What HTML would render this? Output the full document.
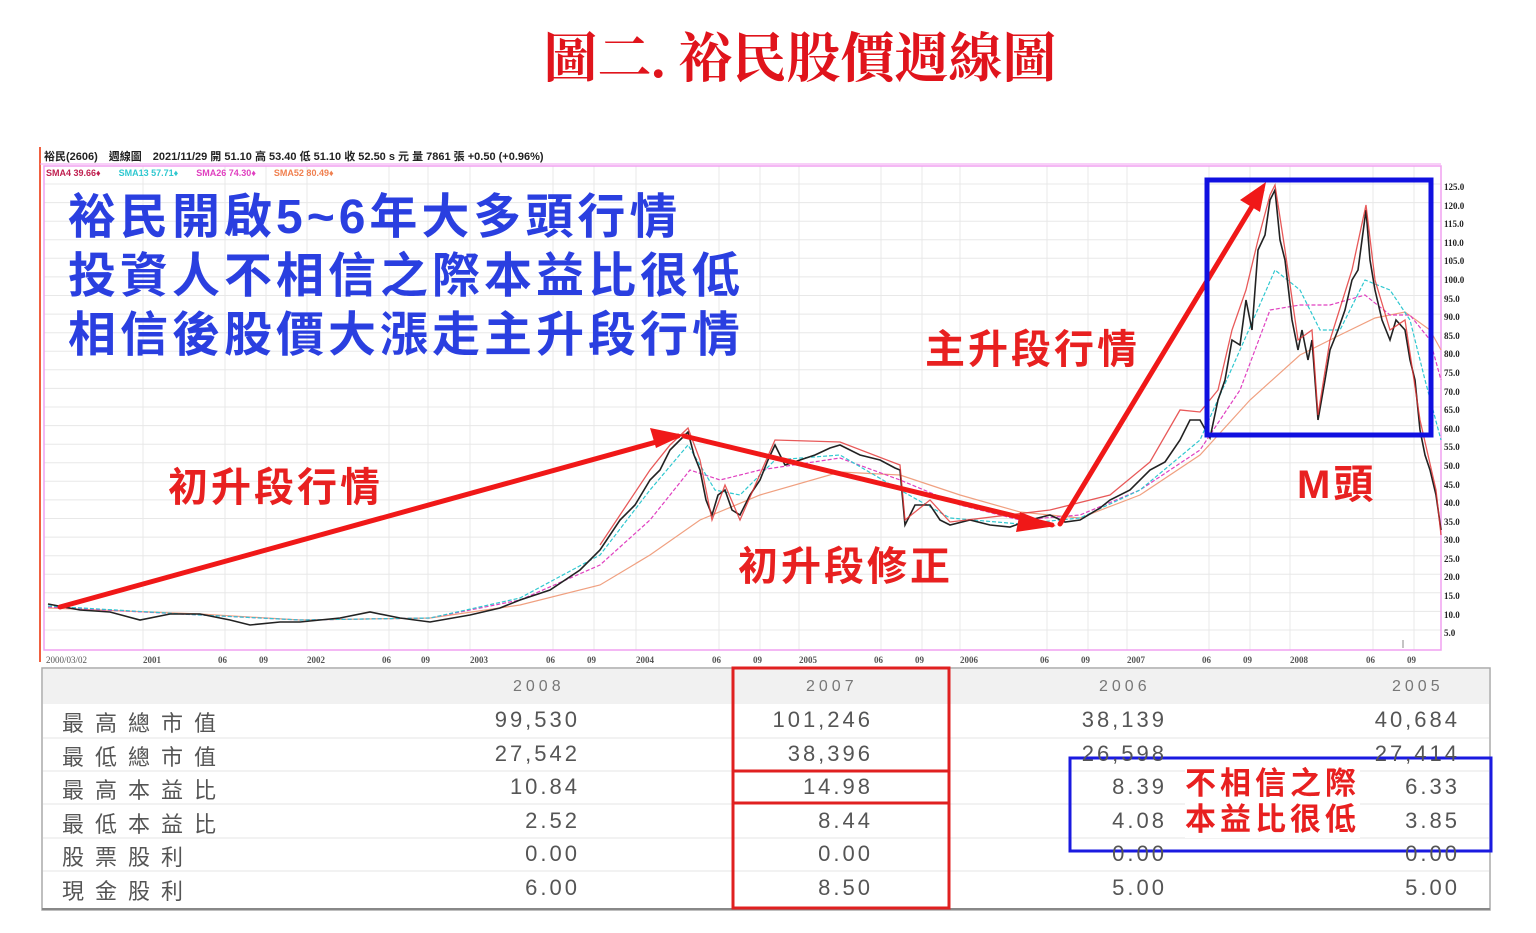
<!DOCTYPE html>
<html><head><meta charset="utf-8"><style>
body{margin:0;width:1536px;height:933px;background:#fff;overflow:hidden;position:relative;font-family:"Liberation Sans","Noto Sans CJK TC",sans-serif}
.a{position:absolute;white-space:nowrap}
.n{letter-spacing:3px;font-size:22px}
.l{letter-spacing:11px;font-size:22px}
</style></head><body>
<div class="a" style="left:0;width:1600px;top:16px;text-align:center;font:bold 54px 'Liberation Serif','Noto Serif CJK SC',serif;color:#e0141c">圖二. 裕民股價週線圖</div>
<svg class="a" style="left:0;top:0" width="1536" height="933" xmlns="http://www.w3.org/2000/svg">
<rect x="38" y="145" width="1453" height="520" fill="#fff"/>
<line x1="40" y1="147" x2="40" y2="662" stroke="#f06040" stroke-width="2"/>
<g stroke="#e8e8e8" stroke-width="1">
<path d="M143 166V650M225 166V650M266 166V650M307 166V650M389 166V650M428 166V650M470 166V650M553 166V650M594 166V650M636 166V650M719 166V650M760 166V650M799 166V650M881 166V650M922 166V650M960 166V650M1047 166V650M1088 166V650M1127 166V650M1209 166V650M1250 166V650M1290 166V650M1373 166V650M1414 166V650"/>
<path d="M44 184H1441M44 202.6H1441M44 221.2H1441M44 239.8H1441M44 258.3H1441M44 276.9H1441M44 295.5H1441M44 314.1H1441M44 332.7H1441M44 351.3H1441M44 369.8H1441M44 388.4H1441M44 407H1441M44 425.6H1441M44 444.2H1441M44 462.8H1441M44 481.3H1441M44 499.9H1441M44 518.5H1441M44 537.1H1441M44 555.7H1441M44 574.3H1441M44 592.8H1441M44 611.4H1441M44 630H1441"/>
</g>
<rect x="44" y="166" width="1397" height="484" fill="none" stroke="#f0a0f0" stroke-width="1.5"/>
<line x1="40" y1="164" x2="1441" y2="164" stroke="#f0a0f0"/>
<polyline fill="none" stroke="#f0a080" stroke-width="1.2" points="48,608 200,614 300,620 430,618 520,605 600,585 650,555 700,520 760,495 840,472 900,475 960,495 1020,512 1080,518 1140,495 1200,455 1250,400 1300,355 1340,335 1375,318 1405,312 1430,330 1441,350"/>
<polyline fill="none" stroke="#e040c0" stroke-width="1.2" stroke-dasharray="4,2" points="48,607 200,615 300,620 430,618 520,600 600,565 650,520 690,470 720,480 760,470 840,458 900,480 960,505 1020,520 1080,515 1140,490 1200,450 1240,390 1270,310 1300,305 1330,305 1365,295 1390,315 1410,315 1430,340 1441,380"/>
<polyline fill="none" stroke="#30c8d0" stroke-width="1.2" stroke-dasharray="4,2" points="48,606 200,615 300,620 430,618 520,598 600,555 650,490 688,445 715,490 740,495 775,460 840,455 900,490 950,518 1020,524 1080,518 1140,490 1200,440 1240,350 1275,270 1300,290 1320,330 1340,330 1365,280 1390,290 1410,320 1425,380 1441,440"/>
<polyline fill="none" stroke="#222" stroke-width="1.6" points="48,604 80,610 110,612 140,620 170,614 200,614 230,620 250,625 280,622 300,622 340,618 370,612 400,618 430,622 470,615 500,608 520,600 550,590 580,570 600,550 620,520 635,505 650,480 660,470 670,450 680,440 688,432 694,455 700,470 706,500 712,515 718,495 725,490 732,510 740,515 750,495 760,480 768,460 775,445 785,465 800,460 815,455 830,448 840,445 860,455 880,460 895,468 900,470 905,525 915,505 930,505 940,520 950,525 970,520 990,525 1010,527 1030,520 1050,515 1065,522 1080,520 1100,508 1110,500 1130,490 1150,470 1165,462 1180,440 1190,420 1200,420 1210,438 1218,400 1225,380 1232,340 1240,345 1246,300 1252,330 1258,250 1265,235 1270,200 1275,190 1280,240 1285,260 1292,320 1298,350 1302,330 1308,360 1312,340 1318,420 1325,380 1330,350 1338,330 1345,310 1352,280 1358,270 1362,240 1366,210 1370,260 1375,290 1382,320 1390,340 1396,320 1405,330 1410,360 1415,380 1420,430 1425,455 1430,470 1436,495 1441,530"/>
<polyline fill="none" stroke="#e23030" stroke-width="1.3" opacity="0.8" points="600,545 620,515 650,470 670,445 688,428 700,460 712,520 725,485 740,520 775,440 840,442 900,465 905,520 930,500 950,522 1050,510 1110,495 1150,462 1180,410 1200,412 1218,390 1232,330 1246,290 1258,240 1270,195 1275,185 1285,250 1298,340 1312,330 1318,415 1330,340 1352,270 1366,205 1375,280 1390,330 1405,320 1420,420 1436,490 1441,535"/>
<path d="M1403 648V640" stroke="#888"/>
<g stroke="#f01818" stroke-width="5" fill="none" stroke-linecap="round">
<line x1="60" y1="607" x2="678" y2="436"/>
<line x1="684" y1="436" x2="1052" y2="525"/>
<line x1="1060" y1="524" x2="1262" y2="190"/>
</g>
<g fill="#f01818">
<polygon points="684,435 650,428 656,448"/>
<polygon points="1056,526 1020,512 1016,532"/>
<polygon points="1266,182 1240,200 1260,212"/>
</g>
<rect x="1207" y="180" width="224" height="255" fill="none" stroke="#1010e0" stroke-width="5"/>
<rect x="42" y="668" width="1448" height="242" fill="#fff" stroke="#aaa" stroke-width="1.5"/>
<rect x="43" y="669" width="1446" height="35" fill="#f1f1f1"/>
<g stroke="#e6e6e6"><path d="M43 738H1489M43 771H1489M43 804H1489M43 838H1489M43 871H1489"/></g>
<line x1="42" y1="909" x2="1490" y2="909" stroke="#888" stroke-width="2"/>
<rect x="733" y="668" width="216" height="240" fill="none" stroke="#e02020" stroke-width="3"/>
<path d="M733 771H949M733 803H949" stroke="#e02020" stroke-width="3"/>
<rect x="1070" y="758" width="421" height="93" fill="none" stroke="#1a1ae0" stroke-width="3"/>
</svg>
<div class="a" style="left:44px;top:148px;font-size:11px;font-weight:bold;color:#222">裕民(2606)　週線圖　2021/11/29 開 51.10 高 53.40 低 51.10 收 52.50 s 元 量 7861 張 +0.50 (+0.96%)</div>
<div class="a" style="left:46px;top:166px;font-size:9px;font-weight:bold"><span style="color:#c02050">SMA4 39.66♦</span>　　<span style="color:#30c8d0">SMA13 57.71♦</span>　　<span style="color:#e040c0">SMA26 74.30♦</span>　　<span style="color:#f08050">SMA52 80.49♦</span></div>
<div class="a" style="left:1444px;top:178px;font:bold 9px 'Liberation Serif',serif;color:#222;line-height:18.6px">125.0<br>120.0<br>115.0<br>110.0<br>105.0<br>100.0<br>95.0<br>90.0<br>85.0<br>80.0<br>75.0<br>70.0<br>65.0<br>60.0<br>55.0<br>50.0<br>45.0<br>40.0<br>35.0<br>30.0<br>25.0<br>20.0<br>15.0<br>10.0<br>5.0</div>
<div class="a" style="left:0;top:655px;font:bold 9px 'Liberation Serif',serif;color:#555;width:1536px;height:12px">
<span class="a" style="left:46px;font-weight:normal">2000/03/02</span><span class="a" style="left:143px">2001</span><span class="a" style="left:218px">06</span><span class="a" style="left:259px">09</span><span class="a" style="left:307px">2002</span><span class="a" style="left:382px">06</span><span class="a" style="left:421px">09</span><span class="a" style="left:470px">2003</span><span class="a" style="left:546px">06</span><span class="a" style="left:587px">09</span><span class="a" style="left:636px">2004</span><span class="a" style="left:712px">06</span><span class="a" style="left:753px">09</span><span class="a" style="left:799px">2005</span><span class="a" style="left:874px">06</span><span class="a" style="left:915px">09</span><span class="a" style="left:960px">2006</span><span class="a" style="left:1040px">06</span><span class="a" style="left:1081px">09</span><span class="a" style="left:1127px">2007</span><span class="a" style="left:1202px">06</span><span class="a" style="left:1243px">09</span><span class="a" style="left:1290px">2008</span><span class="a" style="left:1366px">06</span><span class="a" style="left:1407px">09</span></div>
<div class="a" style="left:68px;top:188px;font-size:48px;letter-spacing:4px;font-weight:bold;color:#2a3fe0;line-height:59px">裕民開啟5~6年大多頭行情<br>投資人不相信之際本益比很低<br>相信後股價大漲走主升段行情</div>
<div class="a" style="left:168px;top:455px;font-size:40px;letter-spacing:3px;font-weight:bold;color:#e82020">初升段行情</div>
<div class="a" style="left:925px;top:317px;font-size:40px;letter-spacing:3px;font-weight:bold;color:#e82020">主升段行情</div>
<div class="a" style="left:738px;top:534px;font-size:40px;letter-spacing:3px;font-weight:bold;color:#e82020">初升段修正</div>
<div class="a" style="left:1297px;top:452px;font-size:40px;letter-spacing:3px;font-weight:bold;color:#e82020">M頭</div>
<div class="a" style="left:0;top:0;color:#555;width:1536px">
<span class="a" style="left:513px;top:678px;font-size:16px;letter-spacing:4px;color:#777">2008</span>
<span class="a" style="left:806px;top:678px;font-size:16px;letter-spacing:4px;color:#777">2007</span>
<span class="a" style="left:1099px;top:678px;font-size:16px;letter-spacing:4px;color:#777">2006</span>
<span class="a" style="left:1392px;top:678px;font-size:16px;letter-spacing:4px;color:#777">2005</span>
<span class="a l" style="left:62px;top:706px">最高總市值</span><span class="a l" style="left:62px;top:740px">最低總市值</span><span class="a l" style="left:62px;top:773px">最高本益比</span><span class="a l" style="left:62px;top:807px">最低本益比</span><span class="a l" style="left:62px;top:840px">股票股利</span><span class="a l" style="left:62px;top:874px">現金股利</span>
<span class="a n" style="right:956px;top:707px">99,530</span><span class="a n" style="right:956px;top:741px">27,542</span><span class="a n" style="right:956px;top:774px">10.84</span><span class="a n" style="right:956px;top:808px">2.52</span><span class="a n" style="right:956px;top:841px">0.00</span><span class="a n" style="right:956px;top:875px">6.00</span>
<span class="a n" style="right:663px;top:707px">101,246</span><span class="a n" style="right:663px;top:741px">38,396</span><span class="a n" style="right:663px;top:774px">14.98</span><span class="a n" style="right:663px;top:808px">8.44</span><span class="a n" style="right:663px;top:841px">0.00</span><span class="a n" style="right:663px;top:875px">8.50</span>
<span class="a n" style="right:369px;top:707px">38,139</span><span class="a n" style="right:369px;top:741px">26,598</span><span class="a n" style="right:369px;top:774px">8.39</span><span class="a n" style="right:369px;top:808px">4.08</span><span class="a n" style="right:369px;top:841px">0.00</span><span class="a n" style="right:369px;top:875px">5.00</span>
<span class="a n" style="right:76px;top:707px">40,684</span><span class="a n" style="right:76px;top:741px">27,414</span><span class="a n" style="right:76px;top:774px">6.33</span><span class="a n" style="right:76px;top:808px">3.85</span><span class="a n" style="right:76px;top:841px">0.00</span><span class="a n" style="right:76px;top:875px">5.00</span>
</div>
<div class="a" style="left:1185px;top:766px;font-size:31px;letter-spacing:4px;font-weight:bold;color:#e82020;line-height:36px;background:#fff">不相信之際<br>本益比很低</div>
</body></html>
